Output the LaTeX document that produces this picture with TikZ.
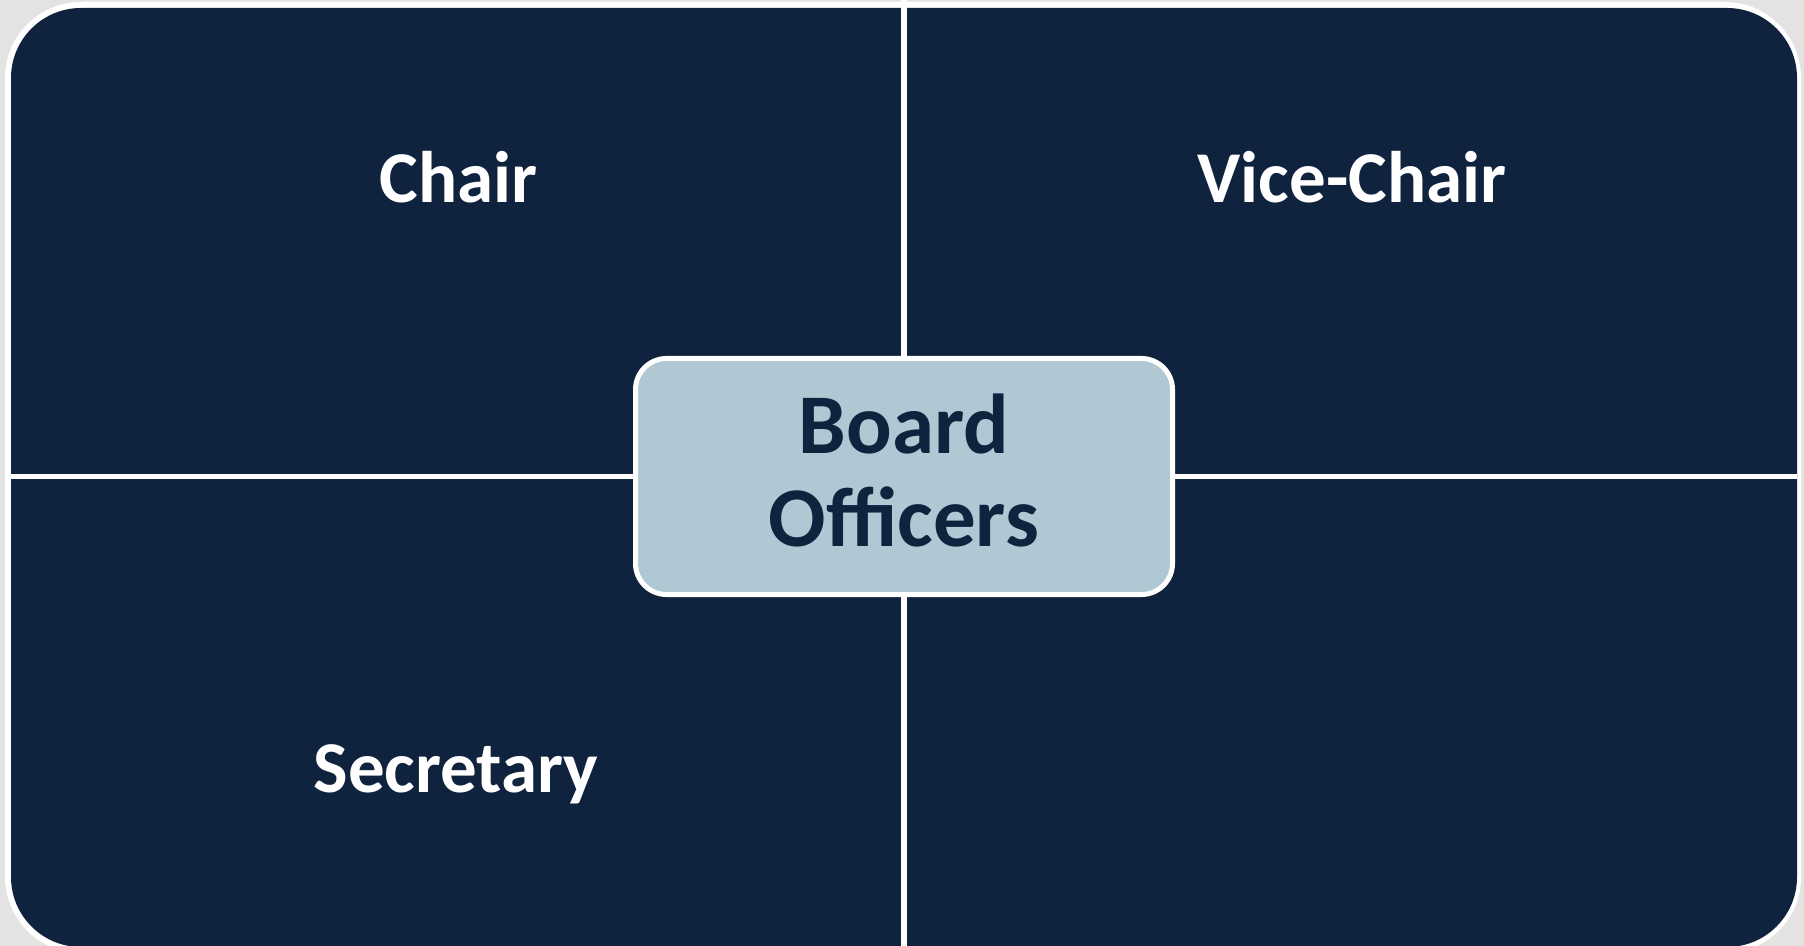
\documentclass[tikz,border=0pt]{standalone}
\usepackage{fontspec}
\setmainfont{Carlito}
\definecolor{boardColor}{HTML}{0F223E}
\definecolor{officeColor}{HTML}{AFC8D4}
\definecolor{pageColor}{HTML}{E3E3E3}
\tikzset{
  role/.style={text=white, inner sep=0pt, anchor=base,
    font=\fontsize{36.5}{40}\selectfont\bfseries},
  officebox/.style={draw=white, line width=2.5pt, fill=officeColor,
    rounded corners=15.5pt, minimum width=268.5pt, minimum height=118pt,
    inner sep=0pt, align=center, text=boardColor, text depth=6.5pt,
    font=\fontsize{42.5}{46.75}\selectfont\bfseries}
}

\begin{document}
\begin{tikzpicture}[x=0.5pt,y=-0.5pt]
      \fill[pageColor] (0,0) rectangle (1804,946);
      \useasboundingbox (0,0) rectangle (1804,946);

      % outer frame and the four quarters
      \fill[white, rounded corners=38pt] (5,2) rectangle (1801,953);
      \fill[boardColor, rounded corners=35pt] (11,8) rectangle (1797,947);
      \draw[white, line width=3pt] (904,0) -- (904,950);
      \draw[white, line width=2.5pt] (11,476.5) -- (1797,476.5);

      \node[role] (chair) at (458.7,202.5) {Chair};
      \node[role] (vice) at (1352,202.5) {Vice-Chair};
      \node[role] (secretary) at (456,792.7) {Secretary};

      \node[officebox] (officers) at (904,476.5) {Board\\Officers};
    \end{tikzpicture}
\end{document}
